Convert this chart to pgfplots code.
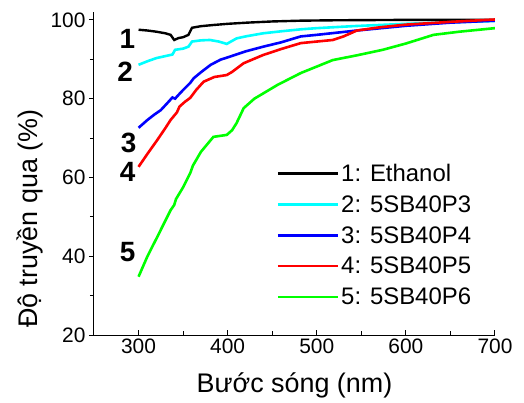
\documentclass[border=0pt]{standalone}
\usepackage{fontspec}
\setmainfont{Liberation Sans}
\usepackage{pgfplots}
\pgfplotsset{compat=1.18}
\definecolor{curvecyan}{RGB}{0,255,255}
\definecolor{curveblue}{RGB}{0,0,255}
\definecolor{curvered}{RGB}{255,0,0}
\definecolor{curvegreen}{RGB}{0,255,0}
\begin{document}
\begin{tikzpicture}
\begin{axis}[
    at={(0,0)}, anchor=south west,
    scale only axis, width=401bp, height=323bp,
    xmin=250, xmax=700, ymin=20, ymax=102,
    axis lines=left,
    axis line style={-, line width=1bp},
    xtick={300,400,...,700}, ytick={20,40,...,100},
    minor x tick num=1, minor y tick num=1,
    xtick align=inside, ytick align=outside,
    major tick length=5bp, minor tick length=4bp,
    tick style={line width=1bp, black},
    ticklabel style={font=\fontsize{21}{24}\selectfont},
    /pgf/number format/assume math mode=true,
    xlabel={Bước sóng (nm)},
    ylabel={Độ truyền qua (\%)},
    label style={font=\fontsize{27}{30}\selectfont},
    xlabel style={at={(axis description cs:0.5,-0.155)}, anchor=center},
    ylabel style={at={(axis description cs:-0.16,0.36)}, anchor=center},
    legend style={at={(axis description cs:0.455,0.535)}, anchor=north west,
        draw=none, fill=none, font=\fontsize{24}{26}\selectfont,
        row sep=8.5bp, inner sep=0pt},
    legend cell align=left,
    legend image code/.code={\draw[#1, line width=2.6bp] (0bp,0bp) -- (60bp,0bp);},
]
% 1: Ethanol
\addplot[black, line width=2.4bp] coordinates {
    (300,97.5)(310,97.3)(320,97.0)(330,96.6)(336,96.2)(340,94.9)(345,95.4)(350,95.6)
    (356,96.2)(360,98.0)(370,98.4)(384,98.7)(400,99.0)(422,99.3)(450,99.6)(482,99.8)
    (520,99.9)(600,100.0)(700,100.0)
};
% 2: 5SB40P3
\addplot[curvecyan, line width=2.6bp] coordinates {
    (300,88.6)(310,89.5)(320,90.3)(330,90.8)(338,91.2)(341,92.4)(350,92.7)(356,93.2)
    (360,94.5)(370,94.8)(380,94.9)(390,94.5)(399,93.9)(410,95.3)(420,95.8)(440,96.6)
    (460,97.1)(482,97.6)(500,97.9)(540,98.4)(600,99.0)(650,99.4)(700,99.7)
};
% 3: 5SB40P4
\addplot[curveblue, line width=2.6bp] coordinates {
    (300,72.6)(310,74.6)(318,76.0)(325,77.1)(332,78.8)(338,80.3)(341,80.0)(345,81.0)
    (350,82.2)(358,84.0)(362,85.2)(370,86.7)(381,88.6)(392,89.9)(403,90.7)(420,92.0)
    (440,93.2)(460,94.3)(482,95.8)(500,96.2)(545,97.3)(600,98.5)(650,99.3)(700,99.8)
};
% 4: 5SB40P5
\addplot[curvered, line width=2.6bp] coordinates {
    (300,62.7)(310,66.0)(321,69.5)(330,72.5)(336,74.6)(343,76.5)(346,78.0)(352,79.2)
    (358,80.2)(365,82.3)(373,84.3)(385,85.5)(399,86.0)(405,86.8)(418,89.0)(440,91.1)
    (460,92.6)(482,94.1)(518,94.9)(530,95.8)(545,97.3)(570,98.1)(600,98.8)(650,99.5)
    (700,100.1)
};
% 5: 5SB40P6
\addplot[curvegreen, line width=2.6bp] coordinates {
    (300,34.8)(310,40.0)(321,44.9)(330,49.0)(336,51.7)(340,53.0)(342,54.5)(350,57.5)
    (358,61.1)(361,63.0)(370,66.5)(384,70.3)(399,70.8)(405,72.0)(410,73.8)(418,77.6)
    (430,80.0)(456,83.5)(482,86.5)(518,89.8)(545,91.0)(574,92.4)(600,94.0)(631,96.2)
    (660,97.0)(700,97.9)
};
\legend{1: Ethanol, 2: 5SB40P3, 3: 5SB40P4, 4: 5SB40P5, 5: 5SB40P6}
\node[font=\fontsize{28}{30}\selectfont\bfseries] at (axis cs:287.6,95.2) {1};
\node[font=\fontsize{28}{30}\selectfont\bfseries] at (axis cs:284.9,86.9) {2};
\node[font=\fontsize{28}{30}\selectfont\bfseries] at (axis cs:288.8,68.7) {3};
\node[font=\fontsize{28}{30}\selectfont\bfseries] at (axis cs:287.7,61.4) {4};
\node[font=\fontsize{28}{30}\selectfont\bfseries] at (axis cs:287.7,41.0) {5};
\end{axis}
\pgfresetboundingbox
\path[use as bounding box] (-94bp,-68bp) rectangle (430bp,335bp);
\end{tikzpicture}
\end{document}
